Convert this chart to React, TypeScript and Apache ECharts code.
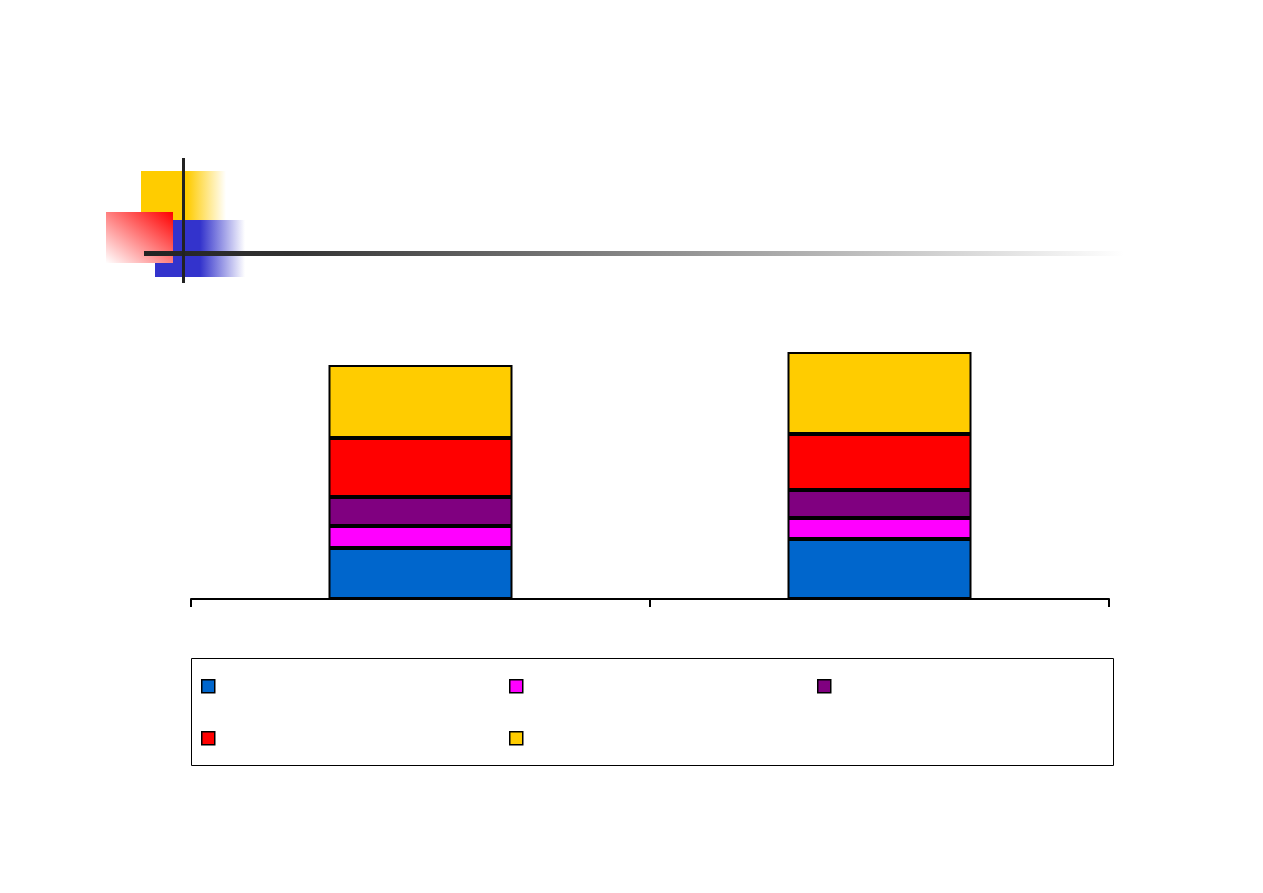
import React, { useEffect, useRef } from "react";
import * as echarts from "echarts";

const categories = ["", " "];
const seriesNames = ["Series 1", "Series 2", "Series 3", "Series 4", "Series 5"];
const blueValues = [51, 60];
const magentaValues = [22, 21];
const purpleValues = [29, 28];
const redValues = [59, 56];
const yellowValues = [73, 82];
const colors = ["#0066CC", "#FF00FF", "#800080", "#FF0000", "#FFCC00"];

export default function App() {
  const ref = useRef<HTMLDivElement>(null);
  useEffect(() => {
    if (!ref.current) return;
    const chart = echarts.init(ref.current, undefined, { renderer: "svg" });
    const values = [blueValues, magentaValues, purpleValues, redValues, yellowValues];
    const legendPos = [
      [201, 679],
      [509, 679],
      [817, 679],
      [201, 731],
      [509, 731],
    ];
    chart.setOption({
      animation: false,
      backgroundColor: "#ffffff",
      grid: { left: 191, right: 154, top: 299, bottom: 294, containLabel: false },
      xAxis: {
        type: "category",
        data: categories,
        axisLine: { lineStyle: { color: "#000", width: 2 } },
        axisTick: { show: true, length: 8, lineStyle: { color: "#000", width: 2 } },
        axisLabel: { show: false },
      },
      yAxis: {
        type: "value",
        min: 0,
        max: 300,
        show: false,
        splitLine: { show: false },
      },
      legend: seriesNames.map((n, i) => ({
        data: [n],
        left: legendPos[i][0],
        top: legendPos[i][1],
        icon: "rect",
        itemWidth: 13,
        itemHeight: 13,
        formatter: () => "",
        padding: 0,
        selectedMode: false,
        itemStyle: { borderColor: "#000", borderWidth: 1.5 },
      })),
      series: seriesNames.map((n, i) => ({
        name: n,
        type: "bar",
        stack: "total",
        data: values[i],
        barWidth: 184,
        itemStyle: { color: colors[i], borderColor: "#000", borderWidth: 2 },
      })),
      graphic: [
        {
          type: "rect",
          shape: { x: 141, y: 171, width: 85, height: 50 },
          style: {
            fill: new echarts.graphic.LinearGradient(0, 0, 1, 0, [
              { offset: 0, color: "#FFCC00" },
              { offset: 0.54, color: "#FFCC00" },
              { offset: 1, color: "rgba(255,255,255,1)" },
            ]),
          },
          z: 1,
        },
        {
          type: "rect",
          shape: { x: 155, y: 220, width: 90, height: 57 },
          style: {
            fill: new echarts.graphic.LinearGradient(0, 0, 1, 0, [
              { offset: 0, color: "#3333CC" },
              { offset: 0.5, color: "#3333CC" },
              { offset: 1, color: "rgba(255,255,255,1)" },
            ]),
          },
          z: 2,
        },
        {
          type: "rect",
          shape: { x: 106, y: 212, width: 67, height: 51 },
          style: {
            fill: new echarts.graphic.LinearGradient(1, 0, 0, 1, [
              { offset: 0, color: "#FF0000" },
              { offset: 1, color: "#FFFFFF" },
            ]),
          },
          z: 3,
        },
        {
          type: "rect",
          shape: { x: 144, y: 251, width: 980, height: 5 },
          style: {
            fill: new echarts.graphic.LinearGradient(0, 0, 1, 0, [
              { offset: 0, color: "#222222" },
              { offset: 0.15, color: "#333333" },
              { offset: 1, color: "#FFFFFF" },
            ]),
          },
          z: 4,
        },
        {
          type: "rect",
          shape: { x: 182, y: 158, width: 3, height: 125 },
          style: { fill: "#222222" },
          z: 5,
        },
        {
          type: "rect",
          shape: { x: 191.5, y: 658.5, width: 922, height: 107 },
          style: { fill: "none", stroke: "#000", lineWidth: 1 },
          z: 0,
        },
      ],
    });
    return () => chart.dispose();
  }, []);
  return (
    <div
      ref={ref}
      style={{ position: "absolute", left: 0, top: 0, width: 1263, height: 893 }}
    />
  );
}
